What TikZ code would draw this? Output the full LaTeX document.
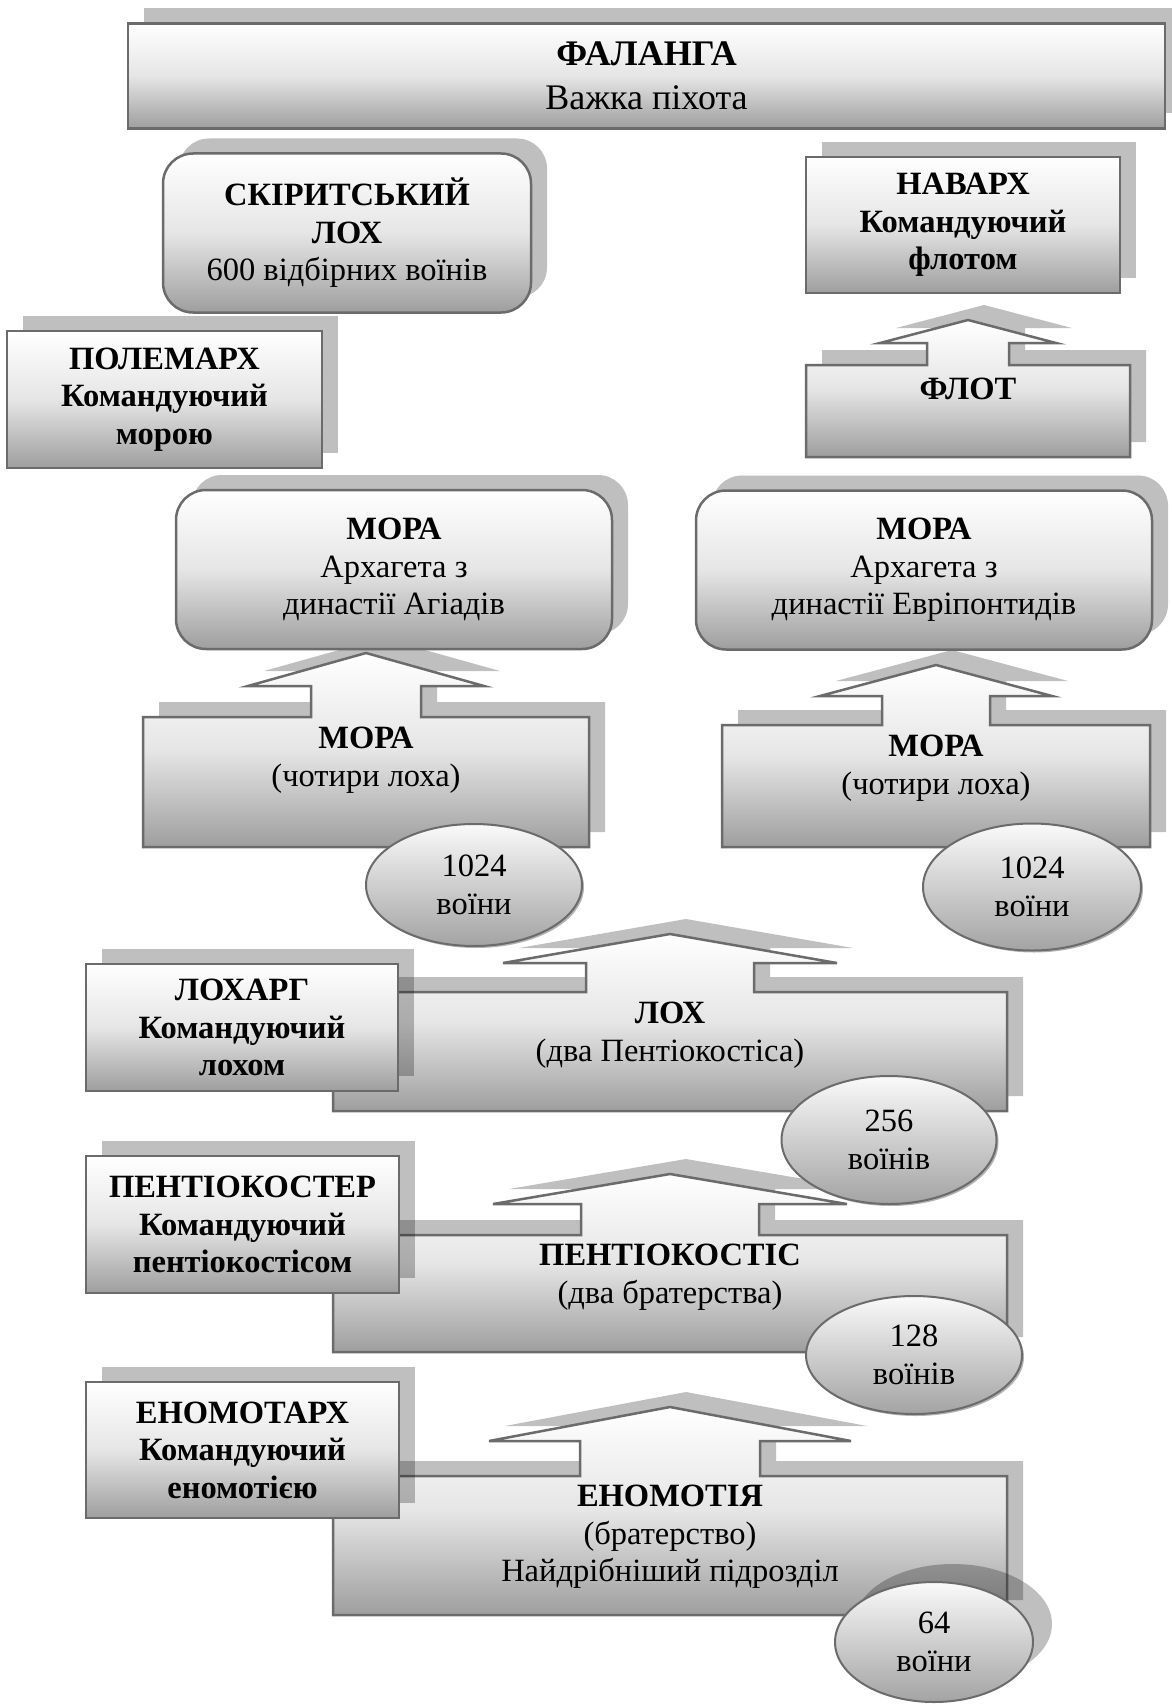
\documentclass[tikz,border=0pt]{standalone}
\usepackage{fontspec}
\setmainfont{Liberation Serif}
\usetikzlibrary{shapes.geometric,shadows}

\begin{document}
\begin{tikzpicture}[x=1pt,y=-1pt,
  grad/.style={draw=black!58, line width=2.5pt, top color=white, bottom color=black!38, middle color=black!10},
  shd/.style={drop shadow={shadow xshift=16pt, shadow yshift=15pt, fill=black, opacity=.25}},
  plainbox/.style={grad, shd, rectangle, align=center, inner sep=0pt, font=\fontsize{32.5}{37.5}\selectfont\bfseries},
  roundbox/.style={grad, shd, rectangle, rounded corners=30pt, align=center, inner sep=0pt, font=\fontsize{32.5}{37.5}\selectfont},
  arrbox/.style={grad, shd},
  txt/.style={align=center, inner sep=0pt, font=\fontsize{32.5}{37.5}\selectfont},
  numoval/.style={ellipse, draw=black!58, line width=2pt, top color=black!2, bottom color=black!36, align=center, inner sep=0pt, font=\fontsize{32.5}{37.5}\selectfont},
  rim/.style={drop shadow={shadow xshift=2pt, shadow yshift=-2pt, fill=black, opacity=.3}},
]
\useasboundingbox (0,0) rectangle (1171,1704);

% arrow-shaped units
\path[arrbox] (806,457) -- (806,365) -- (927,365) -- (927,343) -- (880,343) -- (968,320)
  -- (1056,343) -- (1009,343) -- (1009,365) -- (1130,365) -- (1130,457) -- cycle;
\node[txt] (flot) at (968,389) {\textbf{ФЛОТ}};

\path[arrbox] (143,847) -- (143,717) -- (311,717) -- (311,686) -- (248,686) -- (366,653)
  -- (484,686) -- (421,686) -- (421,717) -- (589,717) -- (589,847) -- cycle;
\node[txt] (moraL) at (366,760) {\textbf{МОРА}\\(чотири лоха)};

\path[arrbox] (722,847) -- (722,725) -- (882,725) -- (882,696) -- (820,696) -- (936,665)
  -- (1052,696) -- (990,696) -- (990,725) -- (1150,725) -- (1150,847) -- cycle;
\node[txt] (moraR) at (936,768) {\textbf{МОРА}\\(чотири лоха)};

\path[arrbox] (333,1111) -- (333,992) -- (586,992) -- (586,963) -- (503,963) -- (670,934)
  -- (837,963) -- (754,963) -- (754,992) -- (1007,992) -- (1007,1111) -- cycle;
\node[txt] (lokh) at (670,1035) {\textbf{ЛОХ}\\(два Пентіокостіса)};

\path[arrbox] (333,1352) -- (333,1235) -- (581,1235) -- (581,1204) -- (493,1204) -- (670,1174)
  -- (847,1204) -- (759,1204) -- (759,1235) -- (1007,1235) -- (1007,1352) -- cycle;
\node[txt] (pentio) at (670,1277) {\textbf{ПЕНТІОКОСТІС}\\(два братерства)};

\path[arrbox] (333,1615) -- (333,1476) -- (580,1476) -- (580,1441) -- (489,1441) -- (670,1407)
  -- (851,1441) -- (760,1441) -- (760,1476) -- (1007,1476) -- (1007,1615) -- cycle;
\node[txt] (enomotia) at (670,1537) {\textbf{ЕНОМОТІЯ}\\(братерство)\\Найдрібніший підрозділ};

% boxes
\node[plainbox, minimum width=1037pt, minimum height=105pt,
  font=\fontsize{36}{44.5}\selectfont] (falanga) at (646.5,76) {\textbf{ФАЛАНГА}\\Важка піхота};
\node[roundbox, minimum width=368pt, minimum height=159pt] (skirit) at (347,233)
  {\textbf{СКІРИТСЬКИЙ}\\\textbf{ЛОХ}\\600 відбірних воїнів};
\node[plainbox, minimum width=314pt, minimum height=136pt] (navarkh) at (963,225)
  {НАВАРХ\\Командуючий\\флотом};
\node[plainbox, minimum width=315pt, minimum height=137pt] (polemarkh) at (164.5,399.5)
  {ПОЛЕМАРХ\\Командуючий\\морою};
\node[roundbox, minimum width=436pt, minimum height=159pt] (moraA) at (394,569.5)
  {\textbf{МОРА}\\Архагета з\\династії Агіадів};
\node[roundbox, minimum width=456pt, minimum height=159pt] (moraE) at (924,570)
  {\textbf{МОРА}\\Архагета з\\династії Евріпонтидів};
\node[plainbox, minimum width=312pt, minimum height=127pt] (lokharg) at (242,1027.5)
  {ЛОХАРГ\\Командуючий\\лохом};
\node[plainbox, minimum width=313pt, minimum height=137pt] (pentioster) at (242.5,1224.5)
  {ПЕНТІОКОСТЕР\\Командуючий\\пентіокостісом};
\node[plainbox, minimum width=313pt, minimum height=136pt] (enomotarkh) at (242.5,1450)
  {ЕНОМОТАРХ\\Командуючий\\еномотією};

% counts
\node[numoval, rim, minimum width=216pt, minimum height=122pt] (n1024L) at (474,885) {1024\\воїни};
\node[numoval, rim, minimum width=218pt, minimum height=127pt] (n1024R) at (1032,887) {1024\\воїни};
\node[numoval, rim, minimum width=215pt, minimum height=128pt] (n256) at (889,1140) {256\\воїнів};
\node[numoval, rim, minimum width=216pt, minimum height=118pt] (n128) at (914,1355) {128\\воїнів};
\node[numoval, minimum width=198pt, minimum height=120pt,
  drop shadow={shadow xshift=19pt, shadow yshift=18pt, fill=black, opacity=.25}] (n64) at (934,1642) {64\\воїни};
\end{tikzpicture}
\end{document}
